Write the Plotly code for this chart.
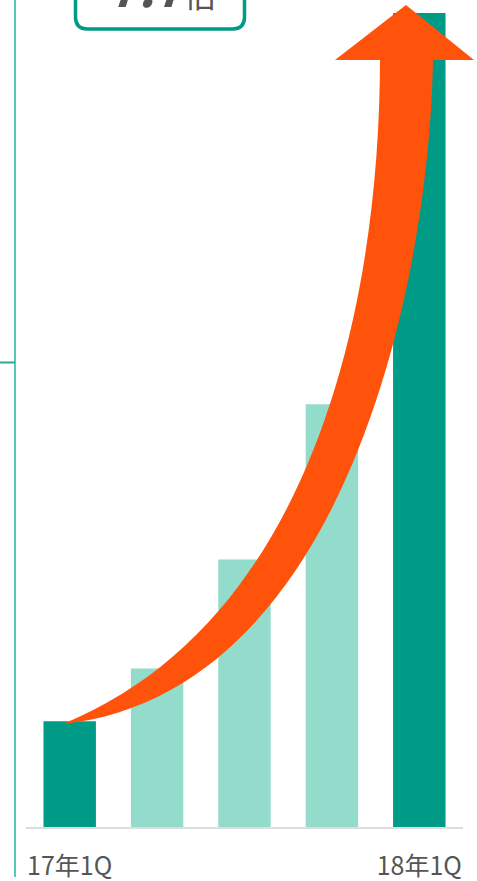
import numpy as np
import plotly.graph_objects as go

# ---------------- data ----------------
categories = [0, 1, 2, 3, 4]
values = [1.0, 1.5, 2.53, 4.0, 7.7]
tick_text = ["17年1Q", "", "", "", "18年1Q"]
bar_colors = ["#009b86", "#93dbcb", "#93dbcb", "#93dbcb", "#009b86"]
badge_text = "<b><i>7.7</i></b><span style='font-size:32px'>倍</span>"

# ---------------- layout constants (pixels) ----------------
W, H = 477, 881
ML, MR, MT, MB = 26, 14, 0, 54
PW = W - ML - MR
PH = H - MT - MB
Y_MAX = 7.824


def px(x):
    return (x - ML) / PW


def py(y):
    return (H - MB - y) / PH


def fit_bezier(points, iters=30):
    """Least-squares cubic Bezier through traced outline points (fixed ends)."""
    Q = np.array(points, dtype=float)
    P0, P3 = Q[0], Q[-1]
    d = np.r_[0, np.cumsum(np.hypot(*np.diff(Q, axis=0).T))]
    t = d / d[-1]
    for _ in range(iters):
        b0 = (1 - t) ** 3
        b1 = 3 * (1 - t) ** 2 * t
        b2 = 3 * (1 - t) * t ** 2
        b3 = t ** 3
        A = np.c_[b1, b2]
        R = Q - np.outer(b0, P0) - np.outer(b3, P3)
        sol, *_ = np.linalg.lstsq(A, R, rcond=None)
        P1, P2 = sol
        ts = np.linspace(0, 1, 2001)
        curve = (np.outer((1 - ts) ** 3, P0) + np.outer(3 * (1 - ts) ** 2 * ts, P1)
                 + np.outer(3 * (1 - ts) * ts ** 2, P2) + np.outer(ts ** 3, P3))
        dist = ((Q[:, None, :] - curve[None, :, :]) ** 2).sum(-1)
        t = ts[dist.argmin(1)]
        t[0], t[-1] = 0, 1
    return P0, P1, P2, P3


# arrow outline (decoration, pixel space)
upper = [(63, 724), (130, 689), (183, 650), (228, 600), (255, 560), (300, 480),
         (313, 450), (338, 380), (358, 303), (373, 183), (380, 60)]
lower = [(63, 724), (95, 721), (130, 710), (183, 679), (245, 635), (275, 598),
         (303, 563), (345, 480), (357, 450), (380, 380), (405, 303), (425, 183), (433, 60)]
head = [(335, 60), (406, 5), (474, 60)]

u0, u1, u2, u3 = fit_bezier(upper)
l0, l1, l2, l3 = fit_bezier(lower[::-1])


def P(p):
    return f"{px(p[0]):.5f},{py(p[1]):.5f}"


path = (f"M {P(u0)} C {P(u1)} {P(u2)} {P(u3)} "
        + " ".join(f"L {P(h)}" for h in head)
        + f" L {P(l0)} C {P(l1)} {P(l2)} {P(l3)} Z")

fig = go.Figure()
fig.add_trace(go.Bar(
    x=categories, y=values, marker_color=bar_colors, marker_line_width=0,
    width=0.6, hoverinfo="skip"))

# rounded badge box (top cut off)
bx0, bx1, by0, by1, r = 75.5, 244.5, -30, 29, 12
badge = (f"M {px(bx0)},{py(by0)} L {px(bx0)},{py(by1 - r)} "
         f"Q {px(bx0)},{py(by1)} {px(bx0 + r)},{py(by1)} "
         f"L {px(bx1 - r)},{py(by1)} "
         f"Q {px(bx1)},{py(by1)} {px(bx1)},{py(by1 - r)} "
         f"L {px(bx1)},{py(by0)}")

shapes = [
    dict(type="line", xref="paper", yref="paper", x0=px(15), x1=px(15), y0=py(0), y1=py(877),
         line=dict(color="#5cc6b6", width=2)),
    dict(type="line", xref="paper", yref="paper", x0=px(0), x1=px(15), y0=py(362.5), y1=py(362.5),
         line=dict(color="#2ba995", width=2)),
    dict(type="path", xref="paper", yref="paper", path=path, fillcolor="#ff520a",
         line=dict(width=0), layer="above"),
    dict(type="path", xref="paper", yref="paper", path=badge,
         line=dict(color="#009b86", width=3.5), layer="above"),
]

fig.update_layout(
    width=W, height=H,
    margin=dict(l=ML, r=MR, t=MT, b=MB, autoexpand=False),
    paper_bgcolor="white", plot_bgcolor="white",
    showlegend=False,
    shapes=shapes,
    font=dict(family="Noto Sans CJK JP, Noto Sans, sans-serif", color="#555555"),
    xaxis=dict(range=[-0.5, 4.5], tickmode="array", tickvals=categories, ticktext=tick_text,
               showline=True, linecolor="#dddddd", linewidth=2, showgrid=False, zeroline=False,
               ticks="", ticklabelstandoff=16, tickfont=dict(size=25, color="#555555"),
               automargin=False, fixedrange=True),
    yaxis=dict(range=[0, Y_MAX], visible=False, fixedrange=True, automargin=False),
    bargap=0.4,
    annotations=[dict(xref="paper", yref="paper", x=px(162), y=py(9), xanchor="center",
                      yanchor="bottom", text=badge_text, showarrow=False,
                      font=dict(size=50, color="#555555", family="Noto Sans CJK JP, sans-serif"),
                      yshift=-14)],
)

fig.write_html("out.html")
